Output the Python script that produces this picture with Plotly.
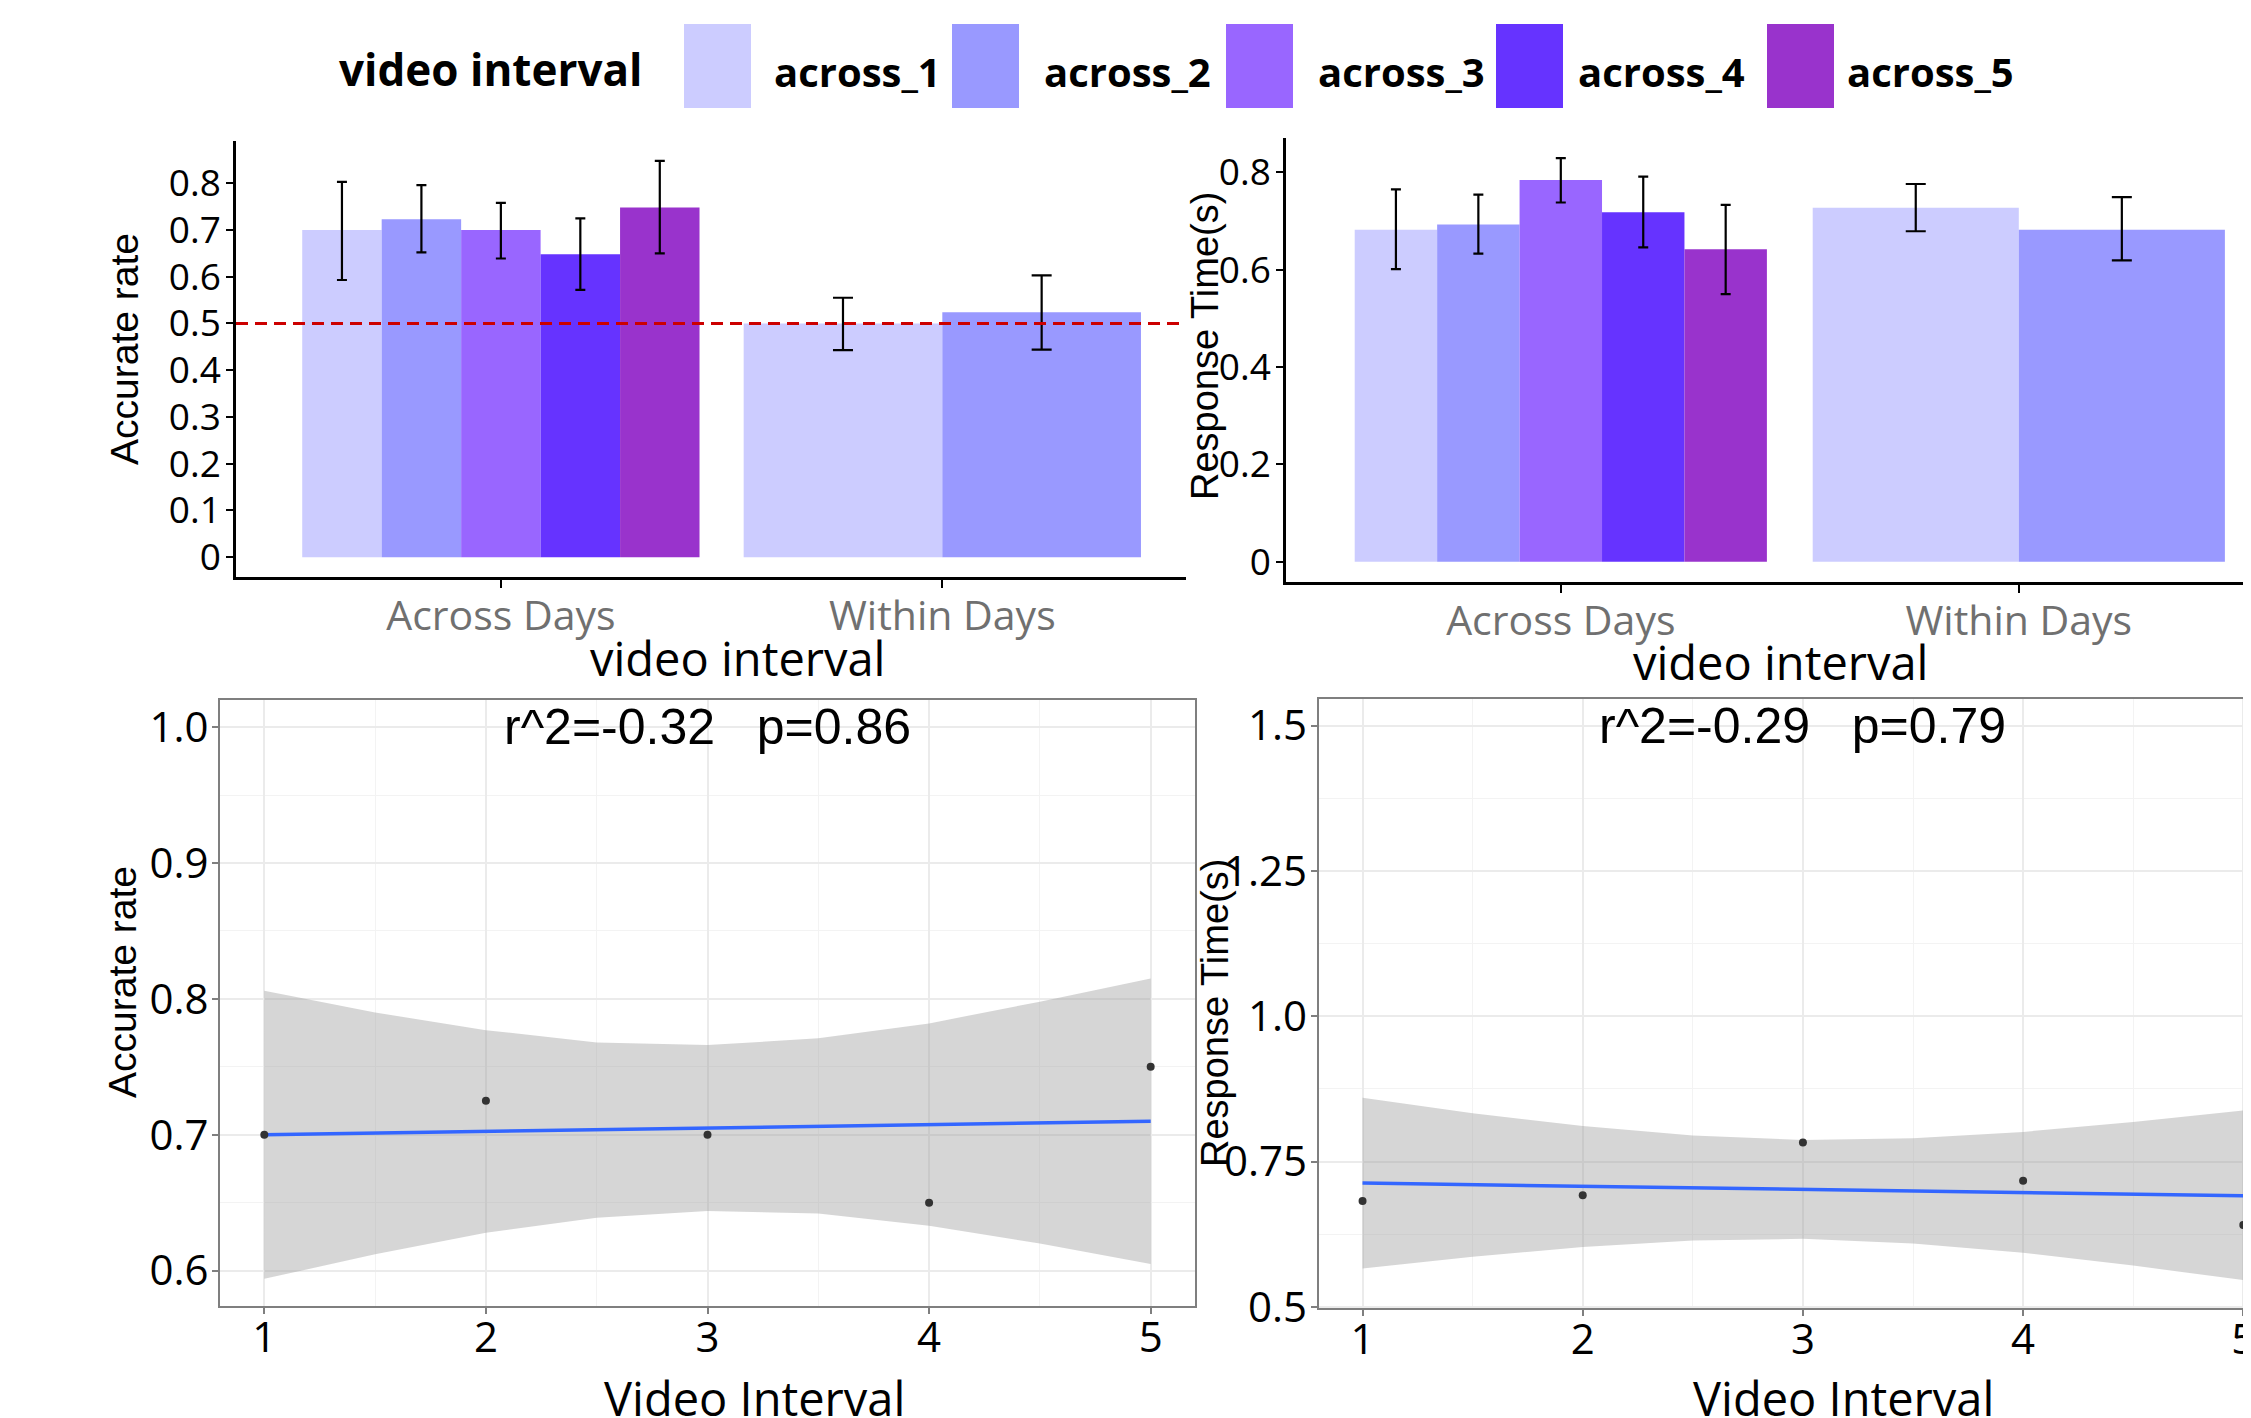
import plotly.graph_objects as go

W, H = 2251, 1418
OFF = 8            # default page (body) margin of the html page
FW, FH = W - OFF, H - OFF

# ---------------- data ----------------
groups = ["Across Days", "Within Days"]
series = ["across_1", "across_2", "across_3", "across_4", "across_5"]
colors = ["#CCCCFF", "#9999FF", "#9966FF", "#6633FF", "#9933CC"]

acc_across = [0.700, 0.723, 0.700, 0.648, 0.748]
acc_across_hi = [0.803, 0.796, 0.758, 0.725, 0.848]
acc_across_lo = [0.593, 0.652, 0.639, 0.572, 0.650]
acc_within = [0.500, 0.524]
acc_within_hi = [0.555, 0.603]
acc_within_lo = [0.443, 0.444]

rt_across = [0.682, 0.693, 0.784, 0.718, 0.642]
rt_across_hi = [0.765, 0.754, 0.829, 0.791, 0.733]
rt_across_lo = [0.601, 0.633, 0.738, 0.646, 0.550]
rt_within = [0.727, 0.682]
rt_within_hi = [0.776, 0.749]
rt_within_lo = [0.679, 0.619]

chance_level = 0.5

interval = [1, 2, 3, 4, 5]
acc_points = [0.700, 0.725, 0.700, 0.650, 0.750]
rt_points = [0.682, 0.692, 0.783, 0.717, 0.641]

fit_x = [1, 5]
acc_fit = [0.700, 0.710]
rt_fit = [0.713, 0.691]

band_x = [1, 1.5, 2, 2.5, 3, 3.5, 4, 4.5, 5]
acc_band_hi = [0.806, 0.790, 0.777, 0.768, 0.766, 0.771, 0.782, 0.798, 0.815]
acc_band_lo = [0.594, 0.612, 0.628, 0.639, 0.644, 0.642, 0.633, 0.620, 0.605]
rt_band_hi = [0.860, 0.833, 0.811, 0.795, 0.787, 0.790, 0.801, 0.818, 0.838]
rt_band_lo = [0.566, 0.586, 0.603, 0.614, 0.617, 0.609, 0.593, 0.571, 0.546]

acc_label = "r^2=-0.32   p=0.86"
rt_label = "r^2=-0.29   p=0.79"

acc_ticks = [0, 0.1, 0.2, 0.3, 0.4, 0.5, 0.6, 0.7, 0.8]
acc_ticktext = ["0", "0.1", "0.2", "0.3", "0.4", "0.5", "0.6", "0.7", "0.8"]
rt_ticks = [0, 0.2, 0.4, 0.6, 0.8]
rt_ticktext = ["0", "0.2", "0.4", "0.6", "0.8"]
acc2_ticks = [0.6, 0.7, 0.8, 0.9, 1.0]
acc2_ticktext = ["0.6", "0.7", "0.8", "0.9", "1.0"]
rt2_ticks = [0.5, 0.75, 1.0, 1.25, 1.5]
rt2_ticktext = ["0.5", "0.75", "1.0", "1.25", "1.5"]

# ---------------- helpers ----------------
def fx(px):
    return (px - OFF) / FW


def fy(py):
    return 1 - (py - OFF) / FH


TICKFONT = "Open Sans, Roboto, sans-serif"
ARIAL = "Liberation Sans, Arial, sans-serif"

fig = go.Figure()

# ---------------- bar panels ----------------
def add_bars(xa, ya, group_data):
    for gi, (vals, hi, lo, cap) in enumerate(group_data):
        n = len(vals)
        w = 0.9 / n
        for i in range(n):
            fig.add_trace(go.Bar(
                x=[groups[gi]], y=[vals[i]],
                width=w, offset=-0.45 + i * w,
                marker=dict(color=colors[i], line=dict(width=0)),
                error_y=dict(type="data", symmetric=False,
                             array=[hi[i] - vals[i]],
                             arrayminus=[vals[i] - lo[i]],
                             color="black", thickness=2.2, width=cap),
                xaxis=xa, yaxis=ya, showlegend=False, hoverinfo="y",
            ))


add_bars("x", "y", [(acc_across, acc_across_hi, acc_across_lo, 5),
                    (acc_within, acc_within_hi, acc_within_lo, 10)])
add_bars("x2", "y2", [(rt_across, rt_across_hi, rt_across_lo, 5),
                      (rt_within, rt_within_hi, rt_within_lo, 10)])

# ---------------- regression panels ----------------
def add_reg(xa, ya, pts, fit, lo, hi):
    fig.add_trace(go.Scatter(x=band_x, y=lo, mode="lines", line=dict(width=0),
                             xaxis=xa, yaxis=ya, showlegend=False, hoverinfo="skip"))
    fig.add_trace(go.Scatter(x=band_x, y=hi, mode="lines", line=dict(width=0),
                             fill="tonexty", fillcolor="rgba(153,153,153,0.4)",
                             xaxis=xa, yaxis=ya, showlegend=False, hoverinfo="skip"))
    fig.add_trace(go.Scatter(x=fit_x, y=fit, mode="lines",
                             line=dict(color="#3366FF", width=3.5),
                             xaxis=xa, yaxis=ya, showlegend=False))
    fig.add_trace(go.Scatter(x=interval, y=pts, mode="markers",
                             marker=dict(color="#333333", size=8),
                             xaxis=xa, yaxis=ya, showlegend=False, cliponaxis=False))


add_reg("x3", "y3", acc_points, acc_fit, acc_band_lo, acc_band_hi)
add_reg("x4", "y4", rt_points, rt_fit, rt_band_lo, rt_band_hi)

# ---------------- axes ----------------
bar_x_common = dict(type="category", categoryorder="array", categoryarray=groups,
                    showline=True, linecolor="black", linewidth=3,
                    ticks="outside", ticklen=8, tickwidth=2, tickcolor="black",
                    tickfont=dict(family=TICKFONT, size=41, color="#707070"),
                    ticklabelstandoff=-7,
                    showgrid=False, zeroline=False, automargin=False)
bar_y_common = dict(showline=True, linecolor="black", linewidth=2.5,
                    ticks="outside", ticklen=7, tickwidth=2, tickcolor="black",
                    tickfont=dict(family=TICKFONT, size=37, color="black"),
                    ticklabelstandoff=-2,
                    showgrid=False, zeroline=False, tickmode="array", automargin=False)

reg_x_common = dict(showline=True, mirror=True, linecolor="#7f7f7f", linewidth=2,
                    ticks="outside", ticklen=6, tickwidth=2, tickcolor="#7f7f7f",
                    tickfont=dict(family=TICKFONT, size=42, color="black"),
                    ticklabelstandoff=-12, ticklabeloverflow="allow",
                    showgrid=True, gridcolor="#EBEBEB", gridwidth=2,
                    zeroline=False, tickmode="array", tickvals=interval,
                    ticktext=[str(v) for v in interval], automargin=False,
                    minor=dict(showgrid=True, gridcolor="#F3F3F3", gridwidth=1,
                               tick0=0, dtick=0.5))
reg_y_common = dict(showline=True, linecolor="#7f7f7f", linewidth=2,
                    ticks="outside", ticklen=6, tickwidth=2, tickcolor="#7f7f7f",
                    tickfont=dict(family=TICKFONT, size=42, color="black"),
                    ticklabelstandoff=-5,
                    showgrid=True, gridcolor="#EBEBEB", gridwidth=2,
                    zeroline=False, tickmode="array", automargin=False)

fig.update_layout(
    template="none",
    xaxis=dict(bar_x_common, domain=[fx(236), fx(1186)], range=[-0.6, 1.552], anchor="y"),
    yaxis=dict(bar_y_common, domain=[fy(577), fy(141)], range=[-0.0424, 0.8904],
               tickvals=acc_ticks, ticktext=acc_ticktext, anchor="x"),
    xaxis2=dict(bar_x_common, domain=[fx(1286), 1.0], range=[-0.6, 1.507], anchor="y2"),
    yaxis2=dict(bar_y_common, domain=[fy(582), fy(138)], range=[-0.0415, 0.8705],
                tickvals=rt_ticks, ticktext=rt_ticktext, anchor="x2"),
    xaxis3=dict(reg_x_common, domain=[fx(220), fx(1195)], range=[0.8, 5.2], anchor="y3"),
    yaxis3=dict(reg_y_common, domain=[fy(1306), fy(700)], range=[0.574, 1.020],
                tickvals=acc2_ticks, ticktext=acc2_ticktext, mirror=True,
                minor=dict(showgrid=True, gridcolor="#F3F3F3", gridwidth=1,
                           tick0=0.55, dtick=0.05), anchor="x3"),
    xaxis4=dict(reg_x_common, domain=[fx(1318.5), 1.0], range=[0.8, 5.035], anchor="y4"),
    yaxis4=dict(reg_y_common, domain=[fy(1308), fy(699)], range=[0.498, 1.546],
                tickvals=rt2_ticks, ticktext=rt2_ticktext, mirror=False,
                minor=dict(showgrid=True, gridcolor="#F3F3F3", gridwidth=1,
                           tick0=0.375, dtick=0.125), anchor="x4"),
    barmode="overlay",
    width=FW, height=FH,
    margin=dict(l=0, r=0, t=0, b=0, pad=0, autoexpand=False),
    paper_bgcolor="white", plot_bgcolor="white",
    showlegend=False,
)

shapes = []
# chance line
shapes.append(dict(type="line", xref="x domain", yref="y", x0=0, x1=1,
                   y0=chance_level, y1=chance_level,
                   line=dict(color="#CC0000", width=3, dash="12px,7px"), layer="above"))

annotations = []
# legend (key boxes + labels)
legend_box_x = [684, 952, 1226, 1496, 1767]
legend_text_x = [772, 1042, 1316, 1576, 1845]
annotations.append(dict(text="<b>video interval</b>", xref="paper", yref="paper",
                        x=fx(337), y=fy(69), xanchor="left", yanchor="middle",
                        showarrow=False, font=dict(family=TICKFONT, size=44, color="black")))
for name, col, bx, tx in zip(series, colors, legend_box_x, legend_text_x):
    shapes.append(dict(type="rect", xref="paper", yref="paper",
                       x0=fx(bx), x1=fx(bx + 67), y0=fy(108), y1=fy(24),
                       fillcolor=col, line=dict(width=0)))
    annotations.append(dict(text="<b>%s</b>" % name, xref="paper", yref="paper",
                            x=fx(tx), y=fy(71), xanchor="left", yanchor="middle",
                            showarrow=False,
                            font=dict(family=TICKFONT, size=40, color="black")))

# axis titles
def title(text, x, y, size, angle=0, family=TICKFONT):
    annotations.append(dict(text=text, xref="paper", yref="paper", x=fx(x), y=fy(y),
                            xanchor="center", yanchor="middle", showarrow=False,
                            textangle=angle, font=dict(family=family, size=size, color="black")))


title("Accurate rate", 125, 349, 39, -90, ARIAL)
title("Response Time(s)", 1205, 346, 38, -90, ARIAL)
title("Accurate rate", 122, 982, 39, -90, ARIAL)
title("Response Time(s)", 1215, 1013, 38, -90, ARIAL)
title("video interval", 737, 658, 47)
title("video interval", 1780, 662, 47)
title("Video Interval", 754, 1398, 47)
title("Video Interval", 1843, 1398, 47)

# regression labels
annotations.append(dict(text=acc_label, xref="x3", yref="y3", x=3, y=1.0,
                        xanchor="center", yanchor="middle", showarrow=False,
                        font=dict(family=ARIAL, size=50, color="black")))
annotations.append(dict(text=rt_label, xref="x4", yref="y4", x=3, y=1.5,
                        xanchor="center", yanchor="middle", showarrow=False,
                        font=dict(family=ARIAL, size=50, color="black")))

fig.update_layout(shapes=shapes, annotations=annotations)

fig.write_html("out.html")
